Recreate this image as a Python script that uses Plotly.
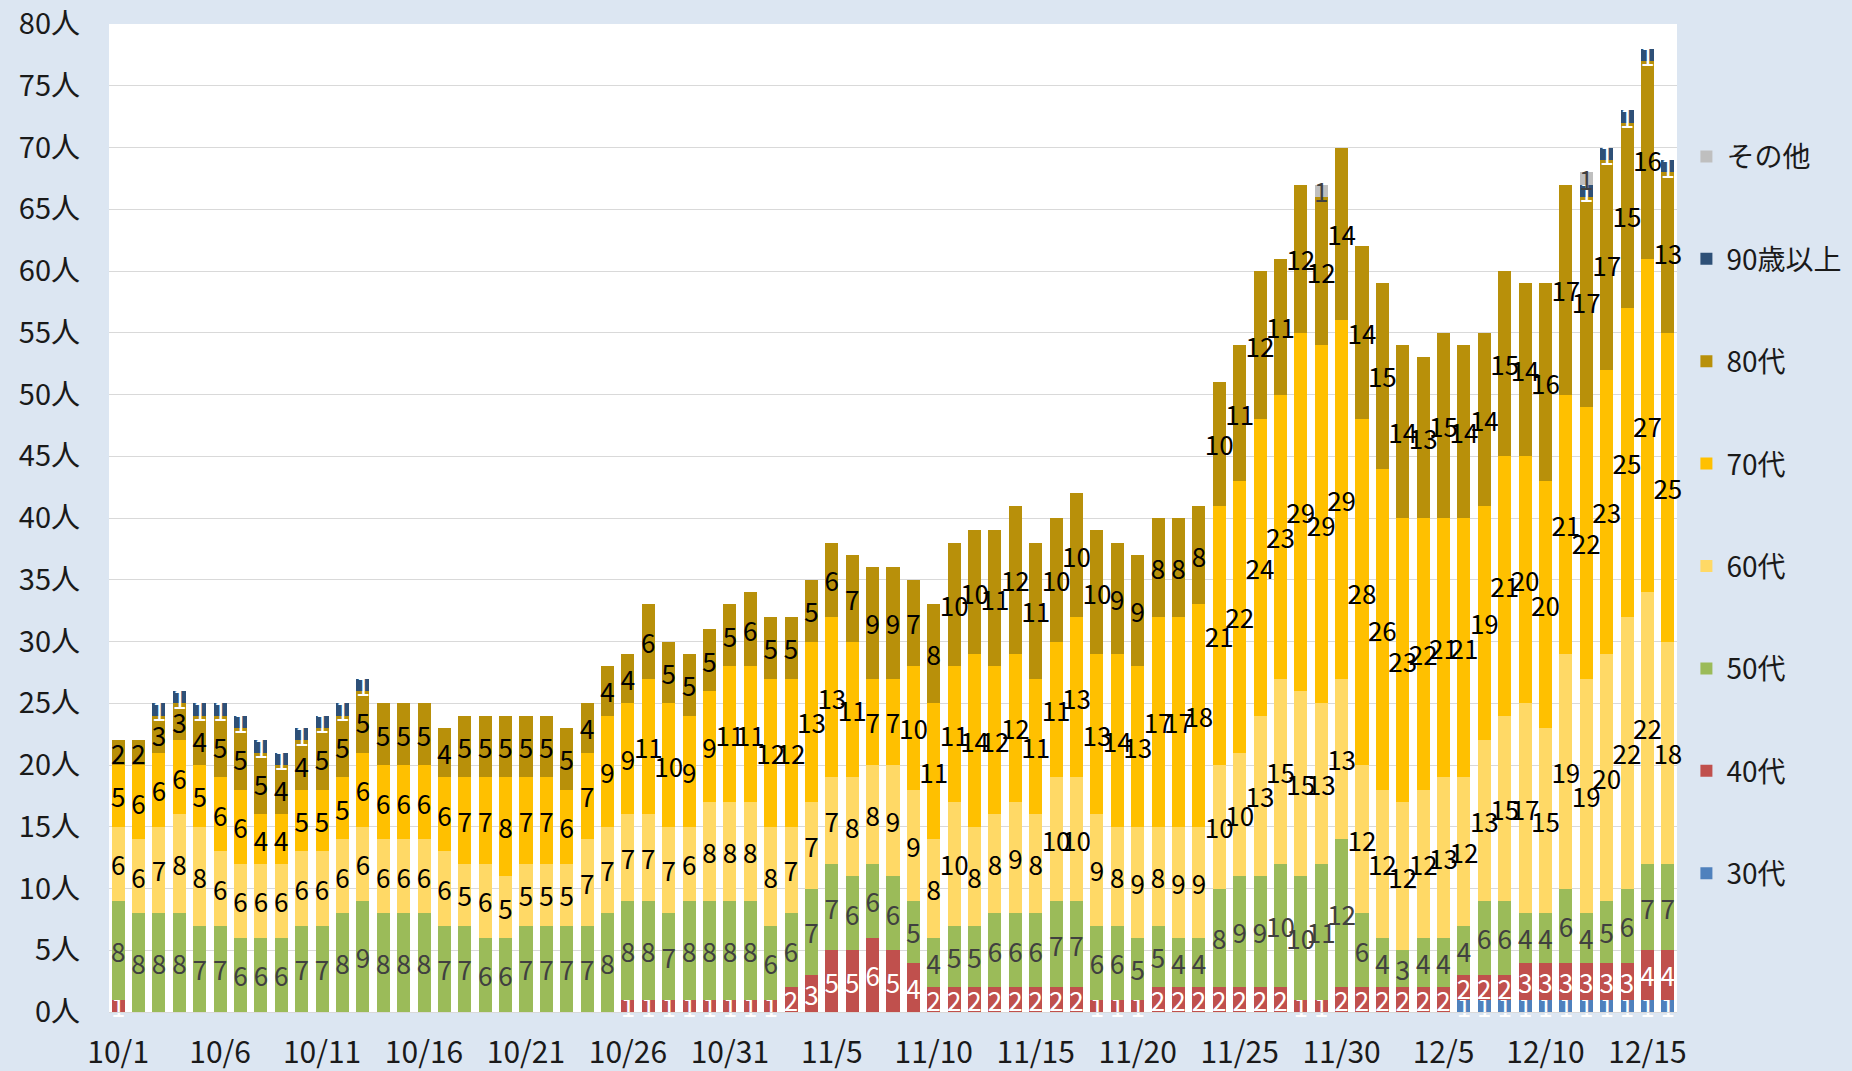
import pandas as pd
import plotly.graph_objects as go

dates = [f"{d.month}/{d.day}" for d in pd.date_range("2020-10-01", "2020-12-16")]

v30 = [0]*66 + [1]*11
v40 = [1] + [0]*24 + [1]*8 + [2, 3, 5, 5, 6, 5, 4, 2, 2, 2, 2, 2, 2, 2, 2, 1, 1, 1,
                            2, 2, 2, 2, 2, 2, 2, 1, 1, 2, 2, 2, 2, 2, 2, 2, 2, 2,
                            3, 3, 3, 3, 3, 3, 4, 4]
v50 = [8, 8, 8, 8, 7, 7, 6, 6, 6, 7, 7, 8, 9, 8, 8, 8, 7, 7, 6, 6, 7, 7, 7, 7, 8,
       8, 8, 7, 8, 8, 8, 8, 6, 6, 7, 7, 6, 6, 6, 5, 4, 5, 5, 6, 6, 6, 7, 7, 6, 6,
       5, 5, 4, 4, 8, 9, 9, 10, 10, 11, 12, 6, 4, 3, 4, 4, 4, 6, 6, 4, 4, 6, 4, 5,
       6, 7, 7]
v60 = [6, 6, 7, 8, 8, 6, 6, 6, 6, 6, 6, 6, 6, 6, 6, 6, 6, 5, 6, 5, 5, 5, 5, 7, 7,
       7, 7, 7, 6, 8, 8, 8, 8, 7, 7, 7, 8, 8, 9, 9, 8, 10, 8, 8, 9, 8, 10, 10, 9, 8,
       9, 8, 9, 9, 10, 10, 13, 15, 15, 13, 13, 12, 12, 12, 12, 13, 12, 13, 15, 17,
       15, 19, 19, 20, 22, 22, 18]
v70 = [5, 6, 6, 6, 5, 6, 6, 4, 4, 5, 5, 5, 6, 6, 6, 6, 6, 7, 7, 8, 7, 7, 6, 7, 9,
       9, 11, 10, 9, 9, 11, 11, 12, 12, 13, 13, 11, 7, 7, 10, 11, 11, 14, 12, 12,
       11, 11, 13, 13, 14, 13, 17, 17, 18, 21, 22, 24, 23, 29, 29, 29, 28, 26, 23,
       22, 21, 21, 19, 21, 20, 20, 21, 22, 23, 25, 27, 25]
v80 = [2, 2, 3, 3, 4, 5, 5, 5, 4, 4, 5, 5, 5, 5, 5, 5, 4, 5, 5, 5, 5, 5, 5, 4, 4,
       4, 6, 5, 5, 5, 5, 6, 5, 5, 5, 6, 7, 9, 9, 7, 8, 10, 10, 11, 12, 11, 10, 10,
       10, 9, 9, 8, 8, 8, 10, 11, 12, 11, 12, 12, 14, 14, 15, 14, 13, 15, 14, 14,
       15, 14, 16, 17, 17, 17, 15, 16, 13]
v90 = [0, 0] + [1]*11 + [0]*59 + [1]*5
vother = [0]*59 + [1] + [0]*12 + [1] + [0]*4

series = [
    ("30代", v30, "#4F81BD", "white"),
    ("40代", v40, "#C0504D", "white"),
    ("50代", v50, "#9BBB59", "#404040"),
    ("60代", v60, "#FFD966", "black"),
    ("70代", v70, "#FFC000", "black"),
    ("80代", v80, "#B8900A", "black"),
    ("90歳以上", v90, "#2E5077", "white"),
    ("その他", vother, "#BFBFBF", "#404040"),
]

FONT = "Noto Sans CJK JP"
fig = go.Figure()
n = len(series)
for k, (name, vals, color, tcolor) in enumerate(series):
    fig.add_trace(go.Bar(
        x=dates, y=vals, name=name, legendgroup=name, legendrank=n - k,
        marker=dict(color=color, line=dict(width=0)),
        text=[str(v) if v else "" for v in vals],
        textposition="inside", insidetextanchor="middle", textangle=0,
        textfont=dict(color=tcolor, size=26, family=FONT),
        cliponaxis=False,
    ))

tick_idx = list(range(0, 77, 5))
fig.update_layout(
    barmode="stack", bargap=0.36,
    width=1852, height=1071,
    paper_bgcolor="#DCE6F2", plot_bgcolor="white",
    margin=dict(l=109, r=175, t=24, b=59, autoexpand=False),
    font=dict(family=FONT, color="#1a1a1a"),
    uniformtext=dict(minsize=26, mode="show"),
    showlegend=True,
    legend=dict(x=1.006, xanchor="left", y=0.891, yanchor="top",
                traceorder="grouped", tracegroupgap=63,
                font=dict(size=28, family=FONT, color="#1a1a1a"),
                bgcolor="rgba(0,0,0,0)"),
    xaxis=dict(type="category", range=[-0.45, 76.45],
               tickvals=[dates[i] for i in tick_idx],
               ticktext=[dates[i] for i in tick_idx],
               tickfont=dict(size=30, family=FONT, color="#1a1a1a"),
               showgrid=False, showline=True, linecolor="#D9D9D9", linewidth=1,
               ticks="", ticklabelstandoff=14),
    yaxis=dict(range=[0, 80], dtick=5, ticksuffix="人",
               tickfont=dict(size=29, family=FONT, color="#1a1a1a"),
               showgrid=True, gridcolor="#D9D9D9", gridwidth=1,
               zeroline=False, ticks="", ticklabelstandoff=28),
)

fig.write_html("out.html", config={"displayModeBar": False},
               post_script="document.body.style.margin='0';document.body.style.overflow='hidden';")
